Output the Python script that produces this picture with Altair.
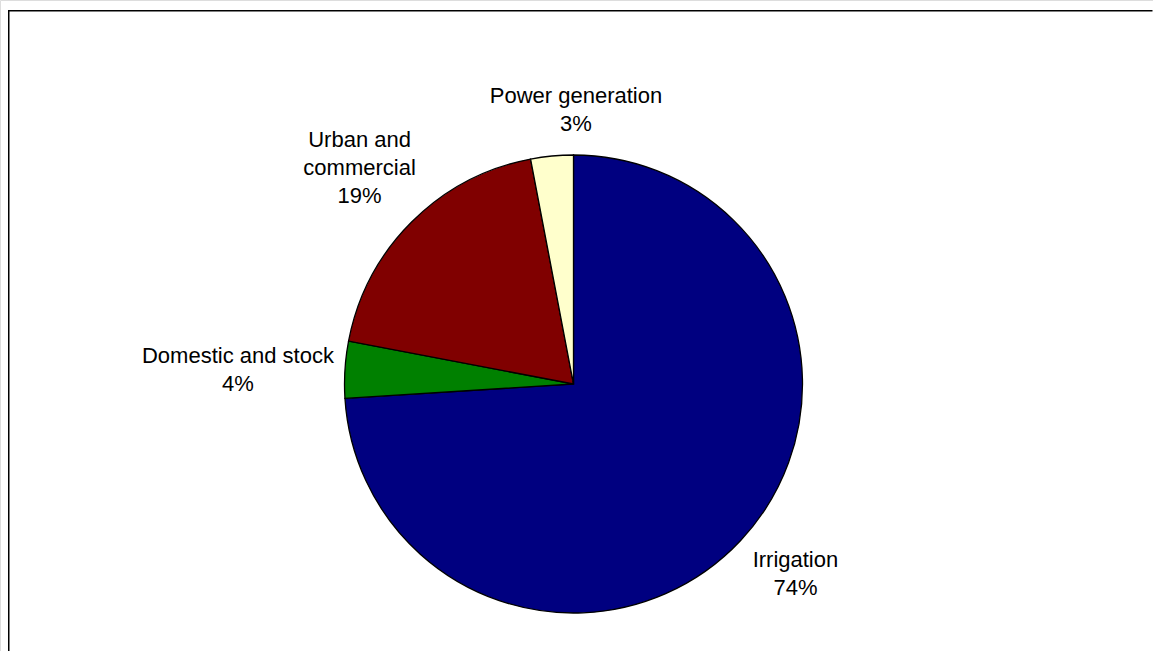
import math
import altair as alt
import pandas as pd

# Water use by sector (share of total, %)
categories = ["Irrigation", "Domestic and stock", "Urban and commercial", "Power generation"]
label_text = ["Irrigation", "Domestic and stock", "Urban and\ncommercial", "Power generation"]
shares = [74, 4, 19, 3]
colors = ["#000080", "#008000", "#800000", "#FFFFCC"]

# Layout of the pie and label offsets (pixels)
W, H = 1153, 651
CX, CY, R = 573.5, 384, 229
LINE_H = 28
label_offset = {
    "Irrigation": (55, 33),
    "Domestic and stock": (-107, 0),
    "Urban and commercial": (-52, -54),
    "Power generation": (24, -46),
}

df = pd.DataFrame({"category": categories, "share": shares, "order": range(len(categories))})
df["label"] = [f"{t}\n{v}%" for t, v in zip(label_text, shares)]

total = sum(shares)
cum = 0
lx, ly = [], []
for cat, v, lab in zip(categories, shares, df["label"]):
    mid = (cum + v / 2) / total * 2 * math.pi
    cum += v
    ex = CX + R * math.sin(mid)
    ey = CY - R * math.cos(mid)
    ox, oy = label_offset[cat]
    n_lines = lab.count("\n") + 1
    # text block centred on the anchor: first line sits half the block above it
    lx.append(ex + ox)
    ly.append(ey + oy - (n_lines - 1) * LINE_H / 2)
df["lx"] = lx
df["ly"] = ly

base = alt.Chart(df)

pie = base.mark_arc(radius=R, stroke="black", strokeWidth=1.3).encode(
    theta=alt.Theta("share:Q", stack=True),
    order=alt.Order("order:Q"),
    color=alt.Color("category:N", scale=alt.Scale(domain=categories, range=colors), legend=None),
    x=alt.value(CX),
    y=alt.value(CY),
)

labels = base.mark_text(
    font="Liberation Sans", fontSize=22, color="black",
    align="center", baseline="middle", lineBreak="\n", lineHeight=LINE_H,
).encode(
    x=alt.X("lx:Q", scale=None),
    y=alt.Y("ly:Q", scale=None),
    text="label:N",
)

# outer frame: only its left and top edges fall inside the page
one = pd.DataFrame({"v": [0]})
frame_left = alt.Chart(one).mark_rect(color="black").encode(
    x=alt.value(8), x2=alt.value(9.5), y=alt.value(10), y2=alt.value(H)
)
frame_top = alt.Chart(one).mark_rect(color="black").encode(
    x=alt.value(8), x2=alt.value(W - 0.5), y=alt.value(10), y2=alt.value(11.5)
)

chart = alt.layer(pie, labels, frame_left, frame_top).properties(
    width=W, height=H,
    autosize=alt.AutoSizeParams(type="none"),
    padding=0,
).configure_view(stroke=None).configure(background="white")

chart.save("out.html", embed_options={"renderer": "svg", "actions": False})
